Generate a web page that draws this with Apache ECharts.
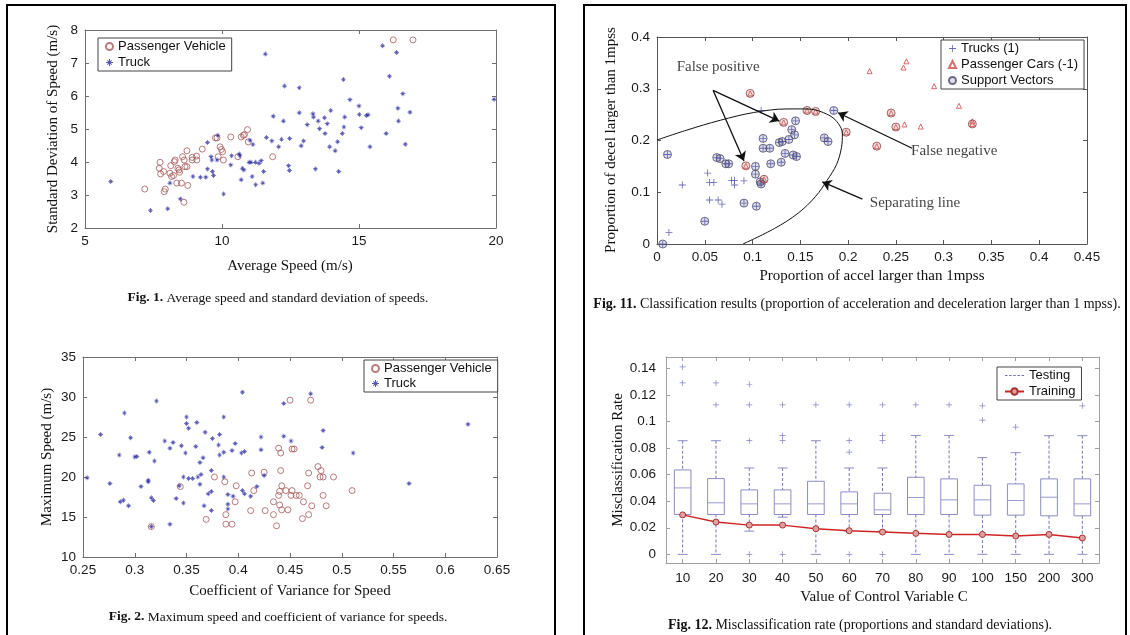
<!DOCTYPE html>
<html>
<head>
<meta charset="utf-8">
<script src="https://cdn.jsdelivr.net/npm/echarts@6/dist/echarts.min.js"></script>
<style>
  html, body { margin: 0; padding: 0; background: #fff; }
  #chart { width: 1130px; height: 635px; }
</style>
</head>
<body>
<div id="chart"></div>
<script>
// Fig. 1: average speed vs standard deviation of speed
const fig1Passenger = [
  [7.18,3.18],[7.74,3.99],[7.71,3.81],[7.76,3.64],[7.87,3.71],[7.89,3.10],[7.93,3.18],[8.13,3.89],
  [8.10,3.66],[8.16,3.56],[8.26,4.01],[8.29,4.06],[8.23,3.59],[8.35,3.36],[8.39,3.81],[8.43,3.76],
  [8.45,3.69],[8.52,3.36],[8.56,4.16],[8.62,4.06],[8.65,3.86],[8.72,4.34],[8.72,3.86],[8.75,3.29],
  [8.61,2.78],[8.91,4.14],[8.91,4.06],[9.07,4.18],[9.08,4.06],[9.28,4.39],[9.76,4.73],[9.82,4.73],
  [9.86,4.16],[9.93,4.46],[9.98,4.38],[10.02,4.31],[10.05,4.06],[10.32,4.76],[10.58,4.16],[10.70,4.76],
  [10.78,4.81],[10.82,4.83],[10.93,4.98],[10.96,4.61],[11.85,4.16],[16.25,7.70],[16.97,7.70]
];
const fig1Truck = [
  [5.94,3.41],[7.39,2.53],[8.02,2.58],[8.10,3.36],[8.48,2.88],[8.94,3.56],[9.21,3.54],[9.41,3.54],
  [9.47,4.59],[9.47,3.79],[9.60,4.16],[9.63,4.06],[9.65,3.71],[9.69,3.59],[9.82,4.06],[9.85,4.81],
  [10.06,3.03],[10.32,3.91],[10.35,4.19],[10.63,4.24],[10.65,4.19],[10.70,3.46],[10.74,3.81],[10.80,3.76],
  [10.99,3.99],[11.06,3.99],[11.02,4.66],[11.13,4.53],[11.10,3.56],[11.22,3.99],[11.23,3.31],[11.35,3.96],
  [11.43,4.04],[11.49,3.36],[11.52,3.71],[11.58,7.27],[11.62,4.74],[11.82,4.64],[11.87,5.39],[12.07,4.46],
  [12.17,4.69],[12.24,5.24],[12.28,6.30],[12.43,3.89],[12.46,3.74],[12.47,4.71],[12.82,6.25],[12.82,5.49],
  [12.89,4.49],[12.98,4.64],[13.11,5.13],[13.32,5.46],[13.34,5.36],[13.41,3.79],[13.51,5.24],[13.56,5.01],
  [13.74,5.34],[13.76,4.86],[13.84,5.16],[13.93,4.46],[13.97,5.56],[14.13,4.34],[14.22,4.61],[14.26,3.71],
  [14.39,4.86],[14.43,6.50],[14.45,5.06],[14.48,5.36],[14.67,5.89],[15.00,5.70],[15.01,5.44],[15.08,5.04],
  [15.27,5.41],[15.33,5.43],[15.40,4.46],[15.86,7.52],[15.99,4.86],[16.11,6.60],[16.37,7.32],[16.42,5.63],
  [16.44,5.24],[16.60,6.07],[16.69,4.54],[16.86,5.51],[19.93,5.90]
];

// Fig. 2: coefficient of variance vs maximum speed
const fig2Passenger = [
  [0.316,13.8],[0.344,18.8],[0.377,20.0],[0.369,14.7],[0.387,19.4],[0.388,15.3],[0.388,14.1],[0.394,14.1],
  [0.397,16.9],[0.398,18.9],[0.413,20.5],[0.412,15.8],[0.415,18.3],[0.425,20.6],[0.426,15.8],[0.434,16.9],
  [0.434,15.3],[0.437,13.9],[0.439,23.6],[0.439,17.7],[0.440,18.2],[0.440,16.5],[0.441,23.0],[0.441,20.8],
  [0.442,18.9],[0.442,15.9],[0.446,18.3],[0.448,15.9],[0.450,29.6],[0.451,17.7],[0.452,18.3],[0.452,23.5],
  [0.454,23.5],[0.456,17.7],[0.459,17.7],[0.462,14.8],[0.463,16.9],[0.467,18.9],[0.468,20.5],[0.468,15.3],
  [0.470,29.6],[0.471,16.4],[0.477,21.3],[0.479,20.0],[0.480,20.8],[0.482,20.0],[0.482,17.7],[0.485,16.4],
  [0.492,20.0],[0.510,18.3]
];
const fig2Truck = [
  [0.254,19.9],[0.267,25.3],[0.276,19.2],[0.285,22.75],[0.286,16.9],[0.289,17.1],[0.290,28.0],[0.294,16.4],
  [0.296,24.9],[0.300,22.5],[0.302,22.55],[0.306,18.8],[0.314,23.1],[0.313,19.4],[0.313,19.6],[0.316,13.8],
  [0.316,17.4],[0.318,17.05],[0.319,22.0],[0.321,29.5],[0.329,24.5],[0.334,23.6],[0.334,14.1],[0.337,24.3],
  [0.340,17.3],[0.343,18.9],[0.345,23.9],[0.347,20.0],[0.347,16.75],[0.349,23.0],[0.350,27.5],[0.350,26.7],
  [0.352,26.1],[0.352,19.8],[0.356,19.8],[0.359,23.8],[0.361,20.0],[0.360,26.8],[0.363,19.1],[0.363,21.8],
  [0.364,20.3],[0.366,22.4],[0.367,16.4],[0.368,25.6],[0.371,17.9],[0.374,18.2],[0.374,15.8],[0.374,20.8],
  [0.375,24.8],[0.381,24.0],[0.382,25.3],[0.382,22.75],[0.386,23.1],[0.386,27.5],[0.386,20.0],[0.390,17.8],
  [0.390,16.0],[0.390,16.6],[0.394,23.3],[0.395,17.6],[0.397,24.2],[0.403,23.0],[0.404,18.3],[0.404,30.6],
  [0.406,17.9],[0.406,23.2],[0.412,17.6],[0.418,18.8],[0.422,25.0],[0.422,23.4],[0.425,20.2],[0.444,25.1],
  [0.444,29.2],[0.451,24.5],[0.470,30.4],[0.481,23.7],[0.482,25.8],[0.511,23.0],[0.565,19.2],[0.622,26.6]
];

// Fig. 11: SVM classification
const fig11Trucks = [
  [0.006,0.0],[0.011,0.173],[0.05,0.044],[0.0625,0.167],[0.066,0.165],[0.072,0.155],[0.075,0.155],
  [0.091,0.079],[0.103,0.135],[0.103,0.150],[0.104,0.073],[0.108,0.12],[0.109,0.116],[0.111,0.185],
  [0.118,0.185],[0.111,0.204],[0.119,0.155],[0.128,0.196],[0.131,0.198],[0.13,0.158],[0.134,0.175],
  [0.138,0.202],[0.141,0.221],[0.144,0.211],[0.1425,0.172],[0.146,0.169],[0.145,0.238],[0.175,0.205],
  [0.179,0.198],[0.185,0.258],
  [0.0125,0.022],[0.0265,0.114],[0.053,0.137],[0.055,0.119],[0.0595,0.119],[0.055,0.085],[0.064,0.085],
  [0.068,0.077],[0.078,0.123],[0.081,0.123],[0.081,0.114],[0.091,0.122],[0.109,0.258]
];
const fig11Cars = [
  [0.0975,0.291],[0.1325,0.235],[0.093,0.151],[0.112,0.125],[0.157,0.258],[0.166,0.256],[0.198,0.216],
  [0.23,0.189],[0.245,0.253],[0.25,0.226],[0.33,0.232],
  [0.2225,0.334],[0.258,0.341],[0.261,0.353],[0.29,0.305],[0.316,0.267],[0.259,0.231],[0.276,0.227],[0.33,0.237]
];
const fig11SupportTruck = [
  [0.006,0.0],[0.011,0.173],[0.05,0.044],[0.0625,0.167],[0.066,0.165],[0.072,0.155],[0.075,0.155],
  [0.091,0.079],[0.103,0.135],[0.103,0.150],[0.104,0.073],[0.108,0.12],[0.109,0.116],[0.111,0.185],
  [0.118,0.185],[0.111,0.204],[0.119,0.155],[0.128,0.196],[0.131,0.198],[0.13,0.158],[0.134,0.175],
  [0.138,0.202],[0.141,0.221],[0.144,0.211],[0.1425,0.172],[0.146,0.169],[0.145,0.238],[0.175,0.205],
  [0.179,0.198],[0.185,0.258]
];
const fig11SupportCar = [
  [0.0975,0.291],[0.1325,0.235],[0.093,0.151],[0.112,0.125],[0.157,0.258],[0.166,0.256],[0.198,0.216],
  [0.23,0.189],[0.245,0.253],[0.25,0.226],[0.33,0.232]
];
const fig11Boundary = [
  [0,0.201],[0.031,0.220],[0.066,0.239],[0.101,0.254],[0.136,0.261],[0.157,0.261],[0.174,0.254],
  [0.187,0.239],[0.194,0.213],[0.193,0.186],[0.188,0.154],[0.178,0.123],[0.166,0.092],[0.148,0.060],
  [0.123,0.030],[0.090,0.0]
];
const fig11Notes = [
  ['False positive', 0.064, 0.341],
  ['False negative', 0.311, 0.180],
  ['Separating line', 0.270, 0.080]
];
const fig11Arrows = [
  [[0.0587,0.297],[0.128,0.2375]],
  [[0.0587,0.297],[0.091,0.1605]],
  [[0.267,0.185],[0.1895,0.2536]],
  [[0.215,0.0867],[0.173,0.120]]
];

// Fig. 12: misclassification rate by C
const fig12Categories = ['10','20','30','40','50','60','70','80','90','100','150','200','300'];
// [lower whisker, q1, median, q3, upper whisker]
const fig12Boxes = [
  [0, 0.030, 0.050, 0.0635, 0.0855],
  [0, 0.030, 0.0388, 0.057, 0.0855],
  [0.0175, 0.030, 0.038, 0.0485, 0.065],
  [0.028, 0.030, 0.038, 0.0485, 0.065],
  [0, 0.030, 0.038, 0.055, 0.0855],
  [0.0175, 0.030, 0.038, 0.047, 0.065],
  [0.0175, 0.030, 0.0335, 0.046, 0.065],
  [0, 0.030, 0.0428, 0.058, 0.0895],
  [0, 0.030, 0.041, 0.0568, 0.0895],
  [0, 0.0295, 0.041, 0.052, 0.0728],
  [0, 0.0295, 0.0405, 0.053, 0.0765],
  [0, 0.029, 0.043, 0.0568, 0.0893],
  [0, 0.029, 0.038, 0.0568, 0.0893]
];
const fig12Outliers = [
  ['10',0.141],['10',0.129],['20',0.129],['20',0.1125],['30',0.128],['30',0.1125],['30',0.0855],['30',0],
  ['40',0.1125],['40',0.0895],['40',0.0855],['40',0],['50',0.1125],['60',0.1125],['60',0.0855],['60',0.077],
  ['60',0],['70',0.1125],['70',0.0895],['70',0.0855],['70',0],['80',0.1125],['90',0.1125],['100',0.1118],
  ['100',0.101],['150',0.0958],['300',0.1118]
];
const fig12Training = [0.0297,0.0243,0.022,0.022,0.0193,0.0178,0.0168,0.0158,0.015,0.015,0.0138,0.015,0.0123];

const plusPath = 'path://M-0.6,-5H0.6V-0.6H5V0.6H0.6V5H-0.6V0.6H-5V-0.6H-0.6Z';
const starPath = 'path://M-0.7,-5H0.7V5H-0.7Z M-5,-0.7H5V0.7H-5Z M-3.5,-2.5L-2.5,-3.5L3.5,2.5L2.5,3.5Z M2.5,-3.5L3.5,-2.5L-2.5,3.5L-3.5,2.5Z';
const dashPath = 'path://M0,0H3V1H0Z M5,0H8V1H5Z M10,0H13V1H10Z M15,0H18V1H15Z M20,0H23V1H20Z';
const sans = 'Liberation Sans, Arial, sans-serif';
const serif = 'Liberation Serif, Times New Roman, serif';

const chart = echarts.init(document.getElementById('chart'), null, { renderer: 'canvas' });

const xAxis = [];
const yAxis = [];

// every plot gets a full frame with inward ticks, like matlab axes
function frameAxes (grid, xs, ys, frame) {
  const line = { show: true, onZero: false, lineStyle: { color: frame, width: 1 } };
  const label = { color: '#1a1a1a', fontSize: 13.5, fontFamily: sans };
  ['bottom', 'top'].forEach(function (pos, k) {
    xAxis.push(Object.assign({
      gridIndex: grid, position: pos, axisLine: line,
      axisTick: Object.assign({ show: true, inside: true, length: 4, lineStyle: { color: frame } }, xs.tick),
      splitLine: { show: false },
      axisLabel: Object.assign({ show: k === 0, margin: xs.margin }, label)
    }, xs.scale));
  });
  ['left', 'right'].forEach(function (pos, k) {
    yAxis.push(Object.assign({
      gridIndex: grid, position: pos, axisLine: line,
      axisTick: { show: true, inside: true, length: 4, lineStyle: { color: frame } },
      splitLine: { show: false },
      axisLabel: Object.assign({ show: k === 0, margin: ys.margin }, label, ys.label)
    }, ys.scale));
  });
}

frameAxes(0, { scale: { type: 'value', min: 5, max: 20, interval: 5 }, margin: 6 },
  { scale: { type: 'value', min: 2, max: 8, interval: 1 }, margin: 7 }, '#707070');
frameAxes(1, { scale: { type: 'value', min: 0.25, max: 0.65, interval: 0.05 }, margin: 6 },
  { scale: { type: 'value', min: 10, max: 35, interval: 5 }, margin: 7 }, '#707070');
frameAxes(2, { scale: { type: 'value', min: 0, max: 0.45, interval: 0.05 }, margin: 6 },
  { scale: { type: 'value', min: 0, max: 0.4, interval: 0.1 }, margin: 7 }, '#555555');
frameAxes(3, { scale: { type: 'category', data: fig12Categories, boundaryGap: true }, tick: { alignWithLabel: true }, margin: 8 },
  { scale: { type: 'value', min: -0.0065, max: 0.1485, minInterval: 0.02, maxInterval: 0.02 },
    label: { showMinLabel: false, showMaxLabel: false }, margin: 10 }, '#a0a0a0');

function legendBox (names, left, top, w, h, gap) {
  return {
    data: names, left: left, top: top, orient: 'vertical', selectedMode: false,
    itemWidth: w, itemHeight: h, itemGap: gap, padding: [2, 6, 2, 7],
    borderColor: '#444', borderWidth: 1, backgroundColor: '#fff',
    textStyle: { fontSize: 13, fontFamily: sans, color: '#111' }
  };
}

function caption (num, text, x, y, size) {
  return {
    type: 'text', x: x, y: y,
    style: {
      text: '{b|Fig. ' + num + '.} ' + text, align: 'center', verticalAlign: 'middle',
      font: size + 'px ' + serif, fill: '#111',
      rich: { b: { fontWeight: 'bold', fontFamily: serif, fontSize: size } }
    }
  };
}

function axisTitle (text, x, y, vertical) {
  return {
    type: 'text', x: x, y: y, rotation: vertical ? Math.PI / 2 : 0,
    style: { text: text, align: 'center', verticalAlign: 'middle', font: '15px ' + serif, fill: '#111' }
  };
}

const hollowBrown = { color: 'transparent', borderColor: '#a85a5a', borderWidth: 1 };

const option = {
  animation: false,
  grid: [
    { left: 85, top: 30, width: 411, height: 198 },
    { left: 83, top: 357, width: 414, height: 200 },
    { left: 657, top: 37, width: 430, height: 207 },
    { left: 666, top: 357, width: 433, height: 206 }
  ],
  xAxis: xAxis,
  yAxis: yAxis,
  legend: [
    legendBox(['Passenger Vehicle', 'Truck'], 98, 38, 7, 7, 3),
    legendBox(['Passenger Vehicle', 'Truck'], 364, 360, 7, 7, 2),
    legendBox(['Trucks (1)', 'Passenger Cars (-1)', 'Support Vectors'], 941, 40, 7, 7, 3),
    legendBox([{ name: 'Testing', icon: dashPath }, 'Training'], 997, 367, 19, 8, 3)
  ],
  series: [
    { name: 'Passenger Vehicle', type: 'scatter', xAxisIndex: 0, yAxisIndex: 0, data: fig1Passenger,
      symbol: 'circle', symbolSize: 6, itemStyle: hollowBrown, silent: true },
    { name: 'Truck', type: 'scatter', xAxisIndex: 0, yAxisIndex: 0, data: fig1Truck,
      symbol: starPath, symbolSize: 5, itemStyle: { color: '#2c2ca0' }, silent: true },
    { name: 'Passenger Vehicle', type: 'scatter', xAxisIndex: 2, yAxisIndex: 2, data: fig2Passenger,
      symbol: 'circle', symbolSize: 6, itemStyle: hollowBrown, silent: true },
    { name: 'Truck', type: 'scatter', xAxisIndex: 2, yAxisIndex: 2, data: fig2Truck,
      symbol: starPath, symbolSize: 5, itemStyle: { color: '#2c2ca0' }, silent: true },

    { name: 'boundary', type: 'line', xAxisIndex: 4, yAxisIndex: 4, data: fig11Boundary,
      smooth: 0.35, symbol: 'none', lineStyle: { color: '#111', width: 1 }, silent: true },
    { name: 'Trucks (1)', type: 'scatter', xAxisIndex: 4, yAxisIndex: 4, data: fig11Trucks,
      symbol: plusPath, symbolSize: 7, itemStyle: { color: '#4646a8' }, silent: true },
    { name: 'Passenger Cars (-1)', type: 'scatter', xAxisIndex: 4, yAxisIndex: 4, data: fig11Cars,
      symbol: 'triangle', symbolSize: 5, itemStyle: { color: 'transparent', borderColor: '#d04848', borderWidth: 1 }, silent: true },
    { name: 'Support Vectors', type: 'scatter', xAxisIndex: 4, yAxisIndex: 4, data: fig11SupportTruck,
      symbol: 'circle', symbolSize: 8, itemStyle: { color: 'rgba(90,90,160,0.25)', borderColor: '#4a4a66', borderWidth: 1 }, silent: true },
    { name: 'Support Vectors', type: 'scatter', xAxisIndex: 4, yAxisIndex: 4, data: fig11SupportCar,
      symbol: 'circle', symbolSize: 8, itemStyle: { color: 'rgba(200,90,90,0.25)', borderColor: '#8a4040', borderWidth: 1 }, silent: true },
    { name: 'notes', type: 'scatter', xAxisIndex: 4, yAxisIndex: 4, symbolSize: 0, silent: true,
      data: fig11Notes.map(function (n) { return { name: n[0], value: [n[1], n[2]] }; }),
      label: { show: true, position: 'inside', formatter: '{b}', fontFamily: serif, fontSize: 15, color: '#111' },
      markLine: {
        silent: true, animation: false, symbol: ['none', 'arrow'], symbolSize: 9,
        lineStyle: { color: '#111', width: 1.3, type: 'solid' }, label: { show: false },
        data: fig11Arrows.map(function (a) { return [{ coord: a[0] }, { coord: a[1] }]; })
      }
    },

    { name: 'Testing', type: 'line', xAxisIndex: 6, yAxisIndex: 6, data: [], symbol: 'none',
      itemStyle: { color: '#7070b8' }, lineStyle: { color: '#7070b8', type: 'dashed', width: 1 } },
    { name: 'testing boxes', type: 'custom', xAxisIndex: 6, yAxisIndex: 6, silent: true,
      data: fig12Boxes.map(function (b, i) { return [i].concat(b); }),
      encode: { x: 0, y: [1, 2, 3, 4, 5] },
      renderItem: function (params, api) {
        const i = api.value(0);
        const lo = api.coord([i, api.value(1)]);
        const q1 = api.coord([i, api.value(2)]);
        const md = api.coord([i, api.value(3)]);
        const q3 = api.coord([i, api.value(4)]);
        const hi = api.coord([i, api.value(5)]);
        const band = api.size([1, 0])[0];
        const half = band * 0.25;
        const cap = band * 0.15;
        const x = lo[0];
        const dash = { stroke: '#7474b4', lineWidth: 1, lineDash: [3, 2] };
        const solid = { stroke: '#8c8cc4', lineWidth: 1 };
        return {
          type: 'group',
          children: [
            { type: 'line', shape: { x1: x, y1: hi[1], x2: x, y2: q3[1] }, style: dash },
            { type: 'line', shape: { x1: x, y1: q1[1], x2: x, y2: lo[1] }, style: dash },
            { type: 'line', shape: { x1: x - cap, y1: hi[1], x2: x + cap, y2: hi[1] }, style: solid },
            { type: 'line', shape: { x1: x - cap, y1: lo[1], x2: x + cap, y2: lo[1] }, style: solid },
            { type: 'rect', shape: { x: x - half, y: q3[1], width: half * 2, height: q1[1] - q3[1] },
              style: { fill: 'none', stroke: '#8c8cc4', lineWidth: 1 } },
            { type: 'line', shape: { x1: x - half, y1: md[1], x2: x + half, y2: md[1] },
              style: { stroke: '#9a9ad0', lineWidth: 1 } }
          ]
        };
      }
    },
    { name: 'outliers', type: 'scatter', xAxisIndex: 6, yAxisIndex: 6, data: fig12Outliers,
      symbol: plusPath, symbolSize: 6, itemStyle: { color: '#6464b0' }, silent: true },
    { name: 'Training', type: 'line', xAxisIndex: 6, yAxisIndex: 6, data: fig12Training,
      symbol: 'circle', symbolSize: 6, silent: true,
      lineStyle: { color: '#d02424', width: 1.5 },
      itemStyle: { color: '#dfa0a0', borderColor: '#a83030', borderWidth: 1 } }
  ],
  graphic: [
    { type: 'rect', shape: { x: 7, y: 5, width: 548, height: 680 }, style: { fill: 'none', stroke: '#000', lineWidth: 2 } },
    { type: 'rect', shape: { x: 584, y: 5, width: 542, height: 680 }, style: { fill: 'none', stroke: '#000', lineWidth: 2 } },
    axisTitle('Standard Deviation of Speed (m/s)', 53, 129, true),
    axisTitle('Average Speed (m/s)', 290, 266, false),
    axisTitle('Maximum Speed (m/s)', 47, 457, true),
    axisTitle('Coefficient of Variance for Speed', 290, 591, false),
    axisTitle('Proportion of decel larger than 1mpss', 611, 140, true),
    axisTitle('Proportion of accel larger than 1mpss', 872, 276, false),
    axisTitle('Misclassification Rate', 618, 460, true),
    axisTitle('Value of Control Variable C', 884, 597, false),
    caption(1, 'Average speed and standard deviation of speeds.', 278, 298, 13.5),
    caption(2, 'Maximum speed and coefficient of variance for speeds.', 278, 617, 13.5),
    caption(11, 'Classification results (proportion of acceleration and deceleration larger than 1 mpss).', 857, 304, 14),
    caption(12, 'Misclassification rate (proportions and standard deviations).', 860, 625, 14)
  ]
};

chart.setOption(option);
</script>
</body>
</html>
